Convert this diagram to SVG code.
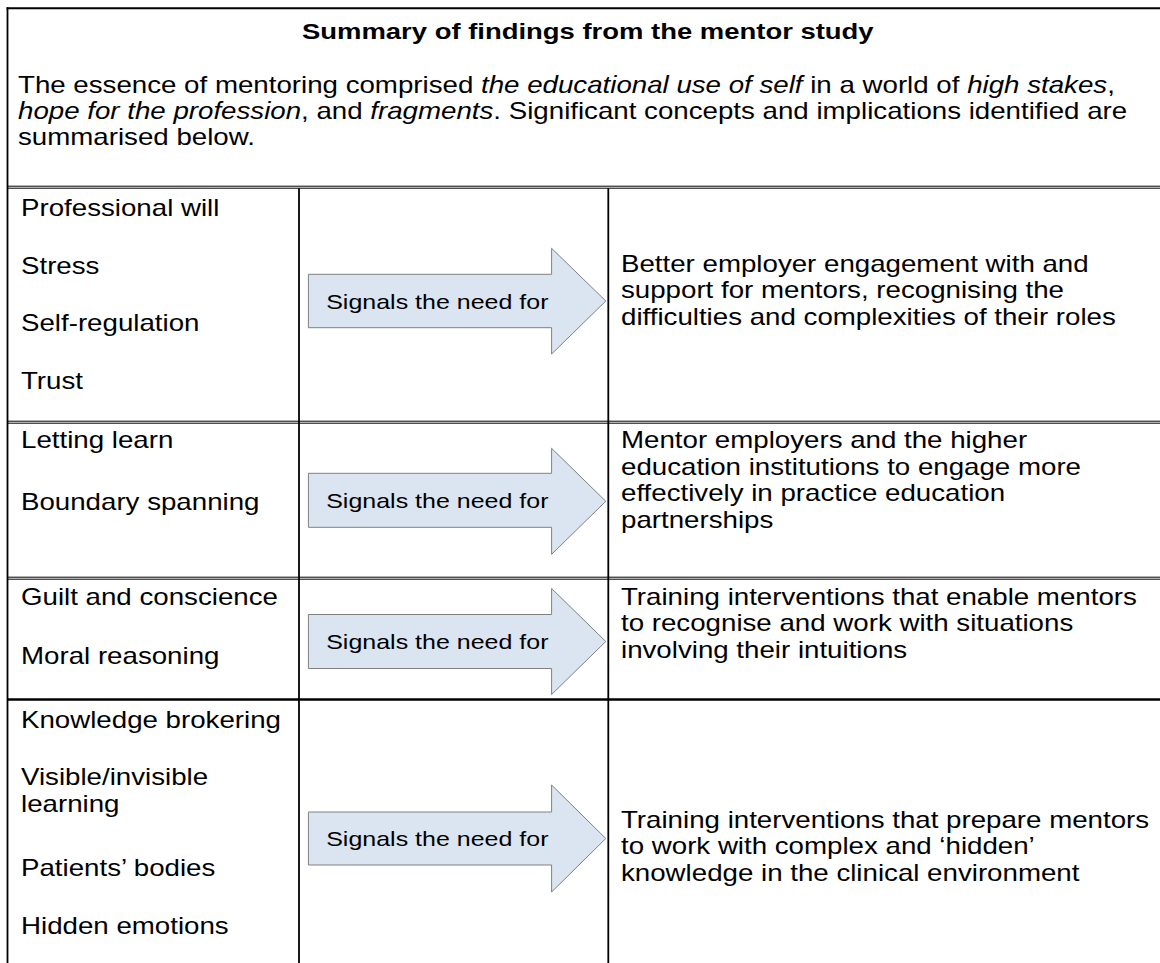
<svg xmlns="http://www.w3.org/2000/svg" width="1160" height="963" viewBox="0 0 1160 963">
<style>
.t{font-family:"Liberation Sans",Arial,sans-serif;font-size:23px;fill:#000}
.b{font-weight:bold;font-size:22.8px}
.s{font-size:20.76px}
.i{font-style:italic}
.ln{stroke:#000;fill:none}
.arr{fill:#dbe5f1;stroke:#808080;stroke-width:1}
</style>
<rect width="1160" height="963" fill="#fff"/>
<g id="grid">
<line class="ln" x1="6.6" y1="8.3" x2="1160" y2="8.3" stroke-width="2"/>
<line class="ln" x1="7.5" y1="7.3" x2="7.5" y2="963" stroke-width="1.8"/>
<line class="ln" x1="7.5" y1="186.2" x2="1160" y2="186.2" stroke-width="1"/>
<line class="ln" x1="7.5" y1="188.2" x2="1160" y2="188.2" stroke-width="1"/>
<line class="ln" x1="7.5" y1="421.2" x2="1160" y2="421.2" stroke-width="1"/>
<line class="ln" x1="7.5" y1="423.2" x2="1160" y2="423.2" stroke-width="1"/>
<line class="ln" x1="7.5" y1="577.2" x2="1160" y2="577.2" stroke-width="1"/>
<line class="ln" x1="7.5" y1="579.2" x2="1160" y2="579.2" stroke-width="1"/>
<line class="ln" x1="7.5" y1="699.5" x2="1160" y2="699.5" stroke-width="2.5"/>
<line class="ln" x1="299" y1="188.2" x2="299" y2="963" stroke-width="1.8"/>
<line class="ln" x1="608.3" y1="188.2" x2="608.3" y2="963" stroke-width="1.8"/>
</g>
<g id="header" transform="scale(1.204 1)">
<text class="t b" x="250.83" y="39.5">Summary of findings from the mentor study</text>
<text class="t" x="14.95" y="93.2">The essence of mentoring comprised <tspan class="i">the educational use of self</tspan> in a world of <tspan class="i">high stakes</tspan>,</text>
<text class="t" x="14.95" y="119"><tspan class="i">hope for the profession</tspan>, and <tspan class="i">fragments</tspan>. Significant concepts and implications identified are</text>
<text class="t" x="14.95" y="144.8">summarised below.</text>
</g>
<g id="row1" transform="scale(1.204 1)">
<text class="t" x="17.44" y="216">Professional will</text>
<text class="t" x="17.44" y="274">Stress</text>
<text class="t" x="17.44" y="331.5">Self-regulation</text>
<text class="t" x="17.44" y="389">Trust</text>
<text class="t" x="515.78" y="272">Better employer engagement with and</text>
<text class="t" x="515.78" y="298.5">support for mentors, recognising the</text>
<text class="t" x="515.78" y="325">difficulties and complexities of their roles</text>
</g>
<g id="row2" transform="scale(1.204 1)">
<text class="t" x="17.44" y="448.5">Letting learn</text>
<text class="t" x="17.44" y="510">Boundary spanning</text>
<text class="t" x="515.78" y="448.5">Mentor employers and the higher</text>
<text class="t" x="515.78" y="475">education institutions to engage more</text>
<text class="t" x="515.78" y="501.5">effectively in practice education</text>
<text class="t" x="515.78" y="528">partnerships</text>
</g>
<g id="row3" transform="scale(1.204 1)">
<text class="t" x="17.44" y="605">Guilt and conscience</text>
<text class="t" x="17.44" y="664">Moral reasoning</text>
<text class="t" x="515.78" y="605">Training interventions that enable mentors</text>
<text class="t" x="515.78" y="631.5">to recognise and work with situations</text>
<text class="t" x="515.78" y="658">involving their intuitions</text>
</g>
<g id="row4" transform="scale(1.204 1)">
<text class="t" x="17.44" y="728">Knowledge brokering</text>
<text class="t" x="17.44" y="785">Visible/invisible</text>
<text class="t" x="17.44" y="812">learning</text>
<text class="t" x="17.44" y="876">Patients’ bodies</text>
<text class="t" x="17.44" y="934">Hidden emotions</text>
<text class="t" x="515.78" y="828">Training interventions that prepare mentors</text>
<text class="t" x="515.78" y="854.5">to work with complex and ‘hidden’</text>
<text class="t" x="515.78" y="881">knowledge in the clinical environment</text>
</g>
<g id="connectors">
<path class="arr" d="M308.4,274.3 H551.6 V248.3 L605.8,301 L551.6,354 V327.7 H308.4 Z"/>
<path class="arr" d="M308.4,473.3 H551.6 V448.3 L605.8,501.3 L551.6,554.3 V527.3 H308.4 Z"/>
<path class="arr" d="M308.4,614.5 H551.6 V588.5 L605.8,641.5 L551.6,694.5 V668.5 H308.4 Z"/>
<path class="arr" d="M308.4,812 H551.6 V785 L605.8,838.5 L551.6,892 V865 H308.4 Z"/>
<g transform="scale(1.204 1)">
<text class="t s" x="270.93" y="309">Signals the need for</text>
<text class="t s" x="270.93" y="508">Signals the need for</text>
<text class="t s" x="270.93" y="649">Signals the need for</text>
<text class="t s" x="270.93" y="846">Signals the need for</text>
</g>
</g>
</svg>
